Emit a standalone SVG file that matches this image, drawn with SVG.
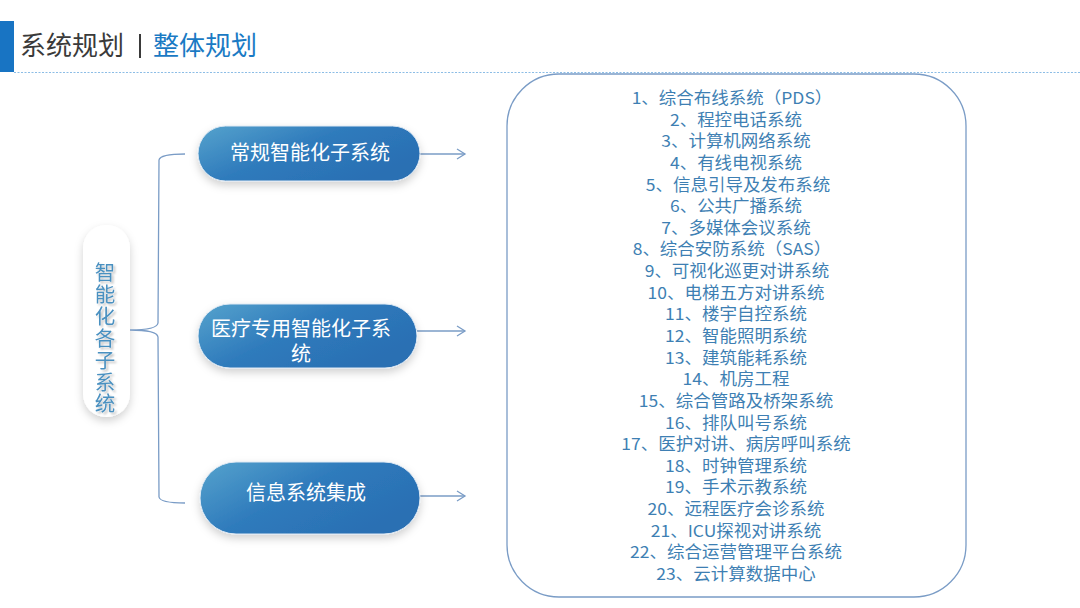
<svg xmlns="http://www.w3.org/2000/svg" width="1080" height="608" viewBox="0 0 1080 608">
<defs>
<linearGradient id="pg" x1="0" y1="0" x2="1" y2="0.6">
<stop offset="0" stop-color="#56a3cd"/>
<stop offset="0.5" stop-color="#2f7bbc"/>
<stop offset="1" stop-color="#2a6fb3"/>
</linearGradient>
<filter id="sh" x="-20%" y="-30%" width="140%" height="170%">
<feDropShadow dx="0" dy="4" stdDeviation="4" flood-color="#000" flood-opacity="0.18"/>
</filter>
<filter id="tsh" x="-30%" y="-10%" width="160%" height="120%">
<feDropShadow dx="2" dy="2" stdDeviation="1" flood-color="#000" flood-opacity="0.25"/>
</filter>
<marker id="ar" markerWidth="12" markerHeight="12" refX="10" refY="6" orient="auto" markerUnits="userSpaceOnUse">
<path d="M2,1 L10,6 L2,11" fill="none" stroke="#7a9cc6" stroke-width="1.3"/>
</marker>
<style>
.cjk{font-family:"Noto Sans CJK SC","Liberation Sans",sans-serif}
.btn{font-size:20px;fill:#ffffff;text-anchor:middle}
.li{font-size:16.5px;fill:#3e7fb3;text-anchor:middle}
.ln{fill:none;stroke:#7a9cc6;stroke-width:1.3}
</style>
</defs>
<rect width="1080" height="608" fill="#ffffff"/>
<g id="header">
<rect x="0" y="21" width="14" height="51" fill="#1874c3"/>
<text x="20" y="55" class="cjk" font-size="26" fill="#3a3a3a">系统规划</text>
<rect x="139" y="34" width="2" height="24" fill="#3a3a3a"/>
<text x="153" y="55" class="cjk" font-size="26" fill="#1a7ac4">整体规划</text>
<line x1="14" y1="72.5" x2="1080" y2="72.5" stroke="#8cbde6" stroke-width="1.2" stroke-dasharray="2,1.5"/>
</g>
<g id="root">
<rect x="83" y="225" width="47" height="192" rx="23" fill="#ffffff" filter="url(#sh)"/>
<text x="105" y="262" class="cjk" font-size="20.5" fill="#4a90c0" writing-mode="vertical-rl" letter-spacing="1.4" filter="url(#tsh)">智能化各子系统</text>
</g>
<g id="connectors">
<path class="ln" d="M185,154 Q160,154 159,160 L158,323 Q157,330 130,330 Q157,330 158,337 L159,497 Q160,503 185,503"/>
<line class="ln" x1="420" y1="154" x2="465" y2="154" marker-end="url(#ar)"/>
<line class="ln" x1="417" y1="331" x2="465" y2="331" marker-end="url(#ar)"/>
<line class="ln" x1="420" y1="496" x2="465" y2="496" marker-end="url(#ar)"/>
</g>
<g id="node1">
<rect x="198" y="126" width="222" height="55" rx="27.5" fill="url(#pg)" stroke="#dde8f3" stroke-width="1" filter="url(#sh)"/>
<text x="310" y="160" class="cjk btn">常规智能化子系统</text>
</g>
<g id="node2">
<rect x="198" y="304" width="219" height="64" rx="32" fill="url(#pg)" stroke="#dde8f3" stroke-width="1" filter="url(#sh)"/>
<text class="cjk btn"><tspan x="301" y="336">医疗专用智能化子系</tspan><tspan x="301" y="361">统</tspan></text>
</g>
<g id="node3">
<rect x="200" y="462" width="220" height="72" rx="36" fill="url(#pg)" stroke="#dde8f3" stroke-width="1" filter="url(#sh)"/>
<text x="306" y="500" class="cjk btn">信息系统集成</text>
</g>
<g id="list">
<rect x="507" y="74" width="459" height="523" rx="52" fill="#ffffff" stroke="#7a9cc6" stroke-width="1.3"/>
<g transform="translate(736,0) scale(1.06,1)">
<text class="cjk li"><tspan x="-3.8" y="104">1、综合布线系统（PDS）</tspan><tspan x="0" y="125.6">2、程控电话系统</tspan><tspan x="0" y="147.3">3、计算机网络系统</tspan><tspan x="0" y="168.9">4、有线电视系统</tspan><tspan x="1.9" y="190.6">5、信息引导及发布系统</tspan><tspan x="0" y="212.2">6、公共广播系统</tspan><tspan x="0" y="233.8">7、多媒体会议系统</tspan><tspan x="-3.8" y="255.5">8、综合安防系统（SAS）</tspan><tspan x="0.9" y="277.1">9、可视化巡更对讲系统</tspan><tspan x="0" y="298.8">10、电梯五方对讲系统</tspan><tspan x="0" y="320.4">11、楼宇自控系统</tspan><tspan x="0" y="342">12、智能照明系统</tspan><tspan x="0" y="363.7">13、建筑能耗系统</tspan><tspan x="0" y="385.3">14、机房工程</tspan><tspan x="0" y="407">15、综合管路及桥架系统</tspan><tspan x="0" y="428.6">16、排队叫号系统</tspan><tspan x="0" y="450.2">17、医护对讲、病房呼叫系统</tspan><tspan x="0" y="471.9">18、时钟管理系统</tspan><tspan x="0" y="493.5">19、手术示教系统</tspan><tspan x="0" y="515.2">20、远程医疗会诊系统</tspan><tspan x="0" y="536.8">21、ICU探视对讲系统</tspan><tspan x="0" y="558.4">22、综合运营管理平台系统</tspan><tspan x="0" y="580">23、云计算数据中心</tspan></text>
</g>
</g>
</svg>
